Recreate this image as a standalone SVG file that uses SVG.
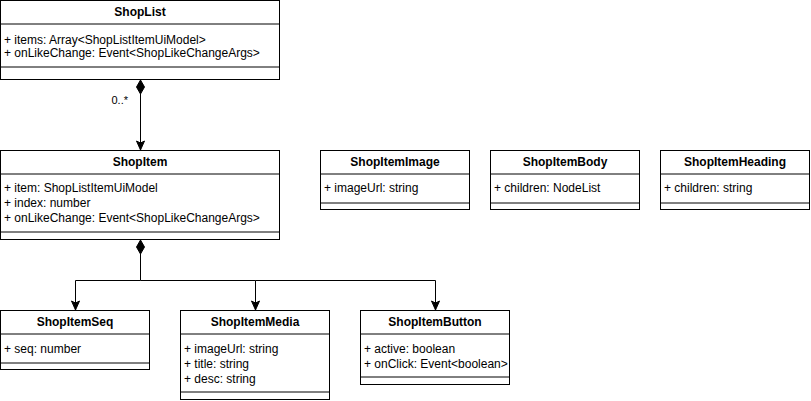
<svg xmlns="http://www.w3.org/2000/svg" width="811" height="401" viewBox="0 0 811 401">
<style>
.box{fill:#fff;stroke:#000;stroke-width:1}
.div{stroke:#000;stroke-width:1}
.h{font-family:"Liberation Sans",Arial,sans-serif;font-size:12px;font-weight:bold;text-anchor:middle;fill:#000}
.t{font-family:"Liberation Sans",Arial,sans-serif;font-size:12px;fill:#000}
.lbl{font-family:"Liberation Sans",Arial,sans-serif;font-size:11px;fill:#000;text-anchor:end}
.c{fill:none;stroke:#000;stroke-width:1}
</style>
<defs>
<marker id="arr" viewBox="0 0 10 10" refX="10" refY="5" markerWidth="10" markerHeight="10" markerUnits="userSpaceOnUse" orient="auto">
<path d="M10,5 L1,1 L3,5 L1,9 Z" fill="#000" stroke="#000" stroke-width="1"/>
</marker>
</defs>
<rect width="811" height="401" fill="#fff"/>
<g id="connectors">
<path class="c" d="M140.5,94 L140.5,150" marker-end="url(#arr)"/>
<path d="M140.5,80 L144.5,87 L140.5,94 L136.5,87 Z" fill="#000" stroke="#000"/>
<text class="lbl" x="128" y="104">0..*</text>
<path class="c" d="M140.5,254 L140.5,280.5 L75.5,280.5 L75.5,310" marker-end="url(#arr)"/>
<path class="c" d="M140.5,280.5 L255.5,280.5 L255.5,310" marker-end="url(#arr)"/>
<path class="c" d="M255.5,280.5 L435.5,280.5 L435.5,310" marker-end="url(#arr)"/>
<path d="M140.5,240 L144.5,247 L140.5,254 L136.5,247 Z" fill="#000" stroke="#000"/>
</g>
<g id="ShopList">
<rect class="box" x="0.5" y="0.5" width="279" height="79"/>
<line class="div" x1="0" y1="24" x2="280" y2="24"/>
<line class="div" x1="0" y1="67" x2="280" y2="67"/>
<text class="h" x="140" y="16">ShopList</text>
<text class="t" x="4" y="44">+ items: Array&lt;ShopListItemUiModel&gt;</text>
<text class="t" x="4" y="57">+ onLikeChange: Event&lt;ShopLikeChangeArgs&gt;</text>
</g>
<g id="ShopItem">
<rect class="box" x="0.5" y="150.5" width="279" height="89"/>
<line class="div" x1="0" y1="174" x2="280" y2="174"/>
<line class="div" x1="0" y1="232" x2="280" y2="232"/>
<text class="h" x="140" y="166">ShopItem</text>
<text class="t" x="4" y="192">+ item: ShopListItemUiModel</text>
<text class="t" x="4" y="207">+ index: number</text>
<text class="t" x="4" y="222">+ onLikeChange: Event&lt;ShopLikeChangeArgs&gt;</text>
</g>
<g id="ShopItemImage">
<rect class="box" x="320.5" y="150.5" width="149" height="59"/>
<line class="div" x1="320" y1="174" x2="470" y2="174"/>
<line class="div" x1="320" y1="203" x2="470" y2="203"/>
<text class="h" x="395" y="166">ShopItemImage</text>
<text class="t" x="324" y="192">+ imageUrl: string</text>
</g>
<g id="ShopItemBody">
<rect class="box" x="490.5" y="150.5" width="149" height="59"/>
<line class="div" x1="490" y1="174" x2="640" y2="174"/>
<line class="div" x1="490" y1="203" x2="640" y2="203"/>
<text class="h" x="565" y="166">ShopItemBody</text>
<text class="t" x="494" y="192">+ children: NodeList</text>
</g>
<g id="ShopItemHeading">
<rect class="box" x="660.5" y="150.5" width="149" height="59"/>
<line class="div" x1="660" y1="174" x2="810" y2="174"/>
<line class="div" x1="660" y1="203" x2="810" y2="203"/>
<text class="h" x="735" y="166">ShopItemHeading</text>
<text class="t" x="664" y="192">+ children: string</text>
</g>
<g id="ShopItemSeq">
<rect class="box" x="0.5" y="310.5" width="149" height="59"/>
<line class="div" x1="0" y1="334" x2="150" y2="334"/>
<line class="div" x1="0" y1="363" x2="150" y2="363"/>
<text class="h" x="75" y="326">ShopItemSeq</text>
<text class="t" x="4" y="353">+ seq: number</text>
</g>
<g id="ShopItemMedia">
<rect class="box" x="180.5" y="310.5" width="149" height="89"/>
<line class="div" x1="180" y1="334" x2="330" y2="334"/>
<line class="div" x1="180" y1="392" x2="330" y2="392"/>
<text class="h" x="255" y="326">ShopItemMedia</text>
<text class="t" x="184" y="353">+ imageUrl: string</text>
<text class="t" x="184" y="368">+ title: string</text>
<text class="t" x="184" y="383">+ desc: string</text>
</g>
<g id="ShopItemButton">
<rect class="box" x="360.5" y="310.5" width="149" height="74"/>
<line class="div" x1="360" y1="334" x2="510" y2="334"/>
<line class="div" x1="360" y1="377" x2="510" y2="377"/>
<text class="h" x="435" y="326">ShopItemButton</text>
<text class="t" x="364" y="353">+ active: boolean</text>
<text class="t" x="364" y="368">+ onClick: Event&lt;boolean&gt;</text>
</g>
</svg>
